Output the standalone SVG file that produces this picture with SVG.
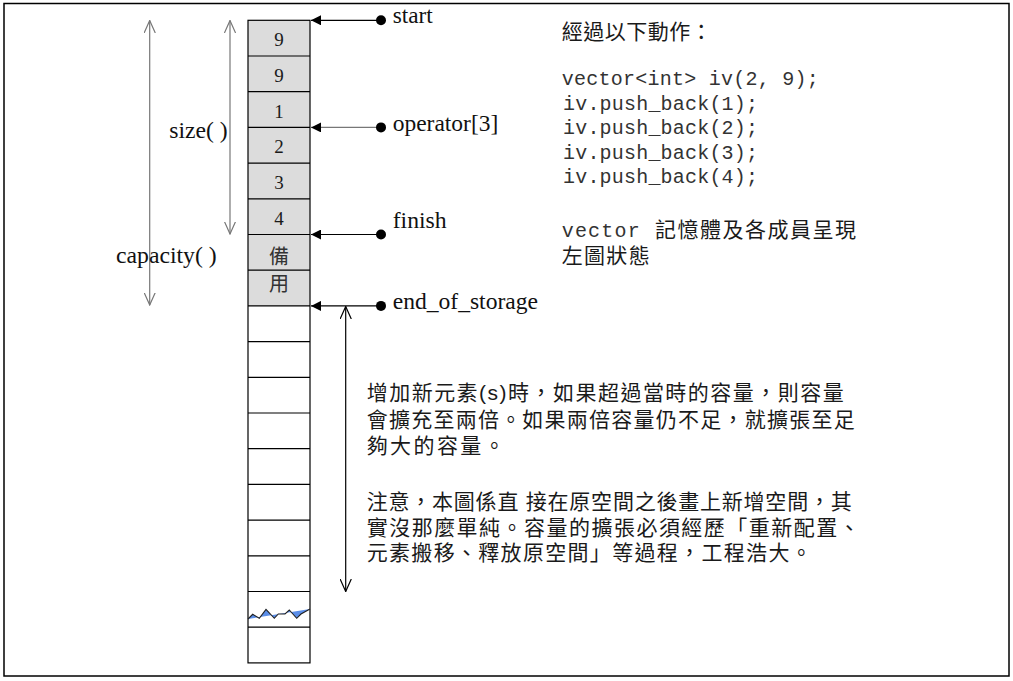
<svg xmlns="http://www.w3.org/2000/svg" width="1013" height="681" viewBox="0 0 1013 681">
<style>
.lbl{font-family:"Liberation Serif","Times New Roman",serif;font-size:24px;fill:#111}
.dig{font-family:"Liberation Serif","Times New Roman",serif;font-size:19px;fill:#1a1a1a;text-anchor:middle}
.cjk{font-family:"Liberation Sans","Noto Sans CJK TC",sans-serif;font-size:21px;fill:#1a1a1a}
.cell{font-family:"Noto Sans CJK TC",sans-serif;font-size:20px;fill:#333;text-anchor:middle}
.mono{font-family:"Liberation Mono","Courier New",monospace;font-size:20px;fill:#333}
.grid{stroke:#000;stroke-width:1.2;fill:none}
.ptr{stroke:#000;stroke-width:1.2;fill:none}
.dot{fill:#000}
</style>
<defs>
<marker id="tri" viewBox="0 0 10 10" refX="10" refY="5" markerWidth="10" markerHeight="10" markerUnits="userSpaceOnUse" orient="auto">
<path d="M0,0 L10,5 L0,10 z" fill="#000"/>
</marker>
<marker id="openG" viewBox="0 0 13 12" refX="12.5" refY="6" markerWidth="13" markerHeight="12" markerUnits="userSpaceOnUse" orient="auto-start-reverse">
<path d="M0,0.4 L12.5,6 L0,11.6" fill="none" stroke="#777" stroke-width="1.2"/>
</marker>
<marker id="openK" viewBox="0 0 13 12" refX="12.5" refY="6" markerWidth="13" markerHeight="12" markerUnits="userSpaceOnUse" orient="auto-start-reverse">
<path d="M0,0.4 L12.5,6 L0,11.6" fill="none" stroke="#000" stroke-width="1.2"/>
</marker>
</defs>
<rect x="4" y="3.5" width="1005" height="672.5" fill="#fff" stroke="#000" stroke-width="1.5"/>

<g id="memory">
<rect x="248" y="20.3" width="62" height="285.6" fill="#dcdcdc"/>
<rect x="248" y="20.3" width="62" height="642.6" class="grid"/>
<path class="grid" d="M248,56H310M248,91.7H310M248,127.4H310M248,163.1H310M248,198.8H310M248,234.5H310M248,270.2H310M248,305.9H310M248,341.6H310M248,377.3H310M248,413H310M248,448.7H310M248,484.4H310M248,520.1H310M248,555.8H310M248,591.5H310M248,627.2H310"/>
<text class="dig" x="279" y="46.3">9</text>
<text class="dig" x="279" y="82">9</text>
<text class="dig" x="279" y="117.7">1</text>
<text class="dig" x="279" y="153.4">2</text>
<text class="dig" x="279" y="189.1">3</text>
<text class="dig" x="279" y="224.8">4</text>
<text class="cell" x="279" y="264">備</text>
<text class="cell" x="279" y="291">用</text>
<polygon points="248,619 252.7,614.3 259.3,618.3 266,609.3 274.3,618.3 278.3,614 285,614 289.3,610 296.7,618.3 301,614 310,609" fill="#5b8ee8"/>
<polyline points="248,619 252.7,614.3 259.3,618.3 266,609.3 274.3,618.3 278.3,614 285,614 289.3,610 296.7,618.3 301,614 310,609" fill="none" stroke="#222" stroke-width="1.1"/>
</g>

<g id="connectors">
<line class="ptr" x1="381" y1="20.3" x2="311" y2="20.3" marker-end="url(#tri)"/>
<line x1="381" y1="127.4" x2="311" y2="127.4" stroke="#777" stroke-width="1.2" marker-end="url(#tri)"/>
<line class="ptr" x1="381" y1="234.5" x2="311" y2="234.5" marker-end="url(#tri)"/>
<line class="ptr" x1="381" y1="305.9" x2="311" y2="305.9" marker-end="url(#tri)"/>
<circle class="dot" cx="381" cy="20.3" r="5"/>
<circle class="dot" cx="381" cy="127.4" r="5"/>
<circle class="dot" cx="381" cy="234.5" r="5"/>
<circle class="dot" cx="381" cy="305.9" r="5"/>
<line x1="149.7" y1="20.5" x2="149.7" y2="305" stroke="#777" stroke-width="1.2" marker-start="url(#openG)" marker-end="url(#openG)"/>
<line x1="230" y1="20.5" x2="230" y2="234" stroke="#777" stroke-width="1.2" marker-start="url(#openG)" marker-end="url(#openG)"/>
<line x1="345.7" y1="306.5" x2="345.7" y2="591.5" stroke="#000" stroke-width="1.2" marker-start="url(#openK)" marker-end="url(#openK)"/>
</g>

<g id="labels">
<text class="lbl" x="392.7" y="23.3" textLength="40" lengthAdjust="spacingAndGlyphs">start</text>
<text class="lbl" x="392.7" y="130.5" textLength="105.6" lengthAdjust="spacingAndGlyphs">operator[3]</text>
<text class="lbl" x="392.7" y="227.7" textLength="54" lengthAdjust="spacingAndGlyphs">finish</text>
<text class="lbl" x="392.7" y="308.5" textLength="145.3" lengthAdjust="spacingAndGlyphs">end_of_storage</text>
<text class="lbl" x="169.3" y="138.3" textLength="58.4" lengthAdjust="spacingAndGlyphs">size( )</text>
<text class="lbl" x="116" y="263.3" textLength="100.7" lengthAdjust="spacingAndGlyphs">capacity( )</text>
</g>

<g id="code-note">
<text class="cjk" x="561.7" y="38.5" textLength="150" lengthAdjust="spacing">經過以下動作：</text>
<text class="mono" x="561.7" y="85" textLength="257" lengthAdjust="spacing" xml:space="preserve">vector&lt;int&gt; iv(2, 9);</text>
<text class="mono" x="563" y="109.5" textLength="195" lengthAdjust="spacing">iv.push_back(1);</text>
<text class="mono" x="563" y="134" textLength="195" lengthAdjust="spacing">iv.push_back(2);</text>
<text class="mono" x="563" y="158.5" textLength="195" lengthAdjust="spacing">iv.push_back(3);</text>
<text class="mono" x="563" y="183" textLength="195" lengthAdjust="spacing">iv.push_back(4);</text>
<text class="mono" x="561.7" y="236.5" textLength="78" lengthAdjust="spacing">vector</text>
<text class="cjk" x="655" y="236.5" textLength="201" lengthAdjust="spacing">記憶體及各成員呈現</text>
<text class="cjk" x="561.7" y="263" textLength="88" lengthAdjust="spacing">左圖狀態</text>
</g>

<g id="growth-note">
<text class="cjk" x="366.7" y="400" textLength="477" lengthAdjust="spacing">增加新元素(s)時，如果超過當時的容量，則容量</text>
<text class="cjk" x="366.7" y="426.5" textLength="488" lengthAdjust="spacing">會擴充至兩倍。如果兩倍容量仍不足，就擴張至足</text>
<text class="cjk" x="366.7" y="452.5" textLength="138" lengthAdjust="spacing">夠大的容量。</text>
<text class="cjk" x="366.7" y="508.5" textLength="485" lengthAdjust="spacing" xml:space="preserve">注意，本圖係直 接在原空間之後畫上新增空間，其</text>
<text class="cjk" x="366.7" y="535" textLength="493" lengthAdjust="spacing">實沒那麼單純。容量的擴張必須經歷「重新配置、</text>
<text class="cjk" x="366.7" y="560" textLength="445" lengthAdjust="spacing">元素搬移、釋放原空間」等過程，工程浩大。</text>
</g>
</svg>
